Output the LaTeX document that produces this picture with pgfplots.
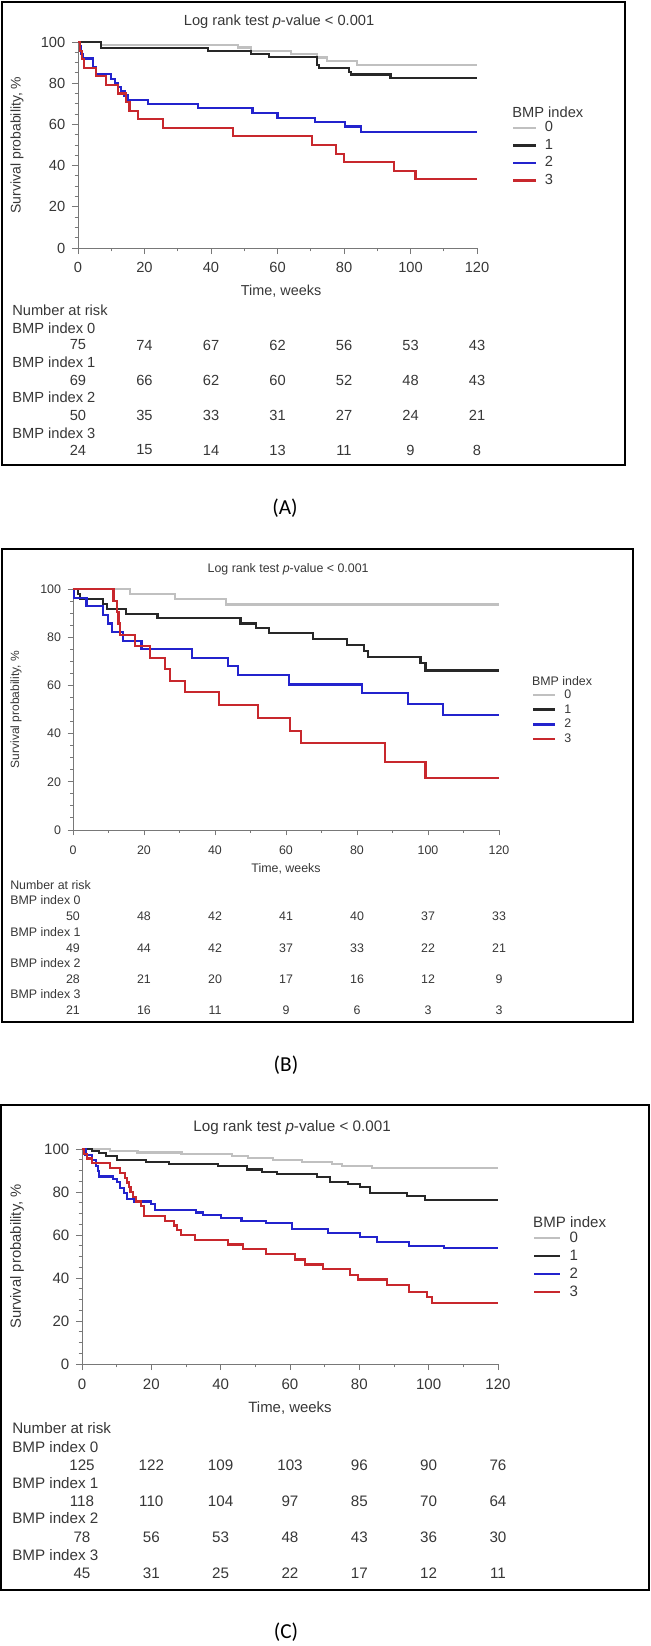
\documentclass[border=0pt]{standalone}
\usepackage{pgfplots}
\pgfplotsset{compat=1.18}
\usepackage{fontspec}
\setmainfont{Liberation Sans}
\newfontfamily\capfont{Carlito}

\definecolor{txt}{RGB}{55,55,55}
\definecolor{axgray}{RGB}{120,120,120}
\definecolor{km0}{RGB}{192,192,192}
\definecolor{km1}{RGB}{40,40,40}
\definecolor{km2}{RGB}{35,35,205}
\definecolor{km3}{RGB}{200,40,45}

\pgfplotsset{
  km/.style={
    scale only axis, xmin=0, xmax=120, ymin=0, ymax=100,
    axis lines=left, axis line style={-, axgray, line width=0.7pt},
    xtick={0,20,...,120}, ytick={0,20,...,100},
    minor x tick num=1, minor y tick num=3,
    tick align=outside, tick style={axgray, line width=0.7pt},
    major tick length=4.5pt, minor tick length=2.5pt,
    tick label style={text=txt},
    /pgf/number format/assume math mode=true,
    clip=false,
    legend cell align=left,
    legend image code/.code={\draw[#1, line width=2pt] plot coordinates {(0pt,0pt) (\pgfkeysvalueof{/pgfplots/kmleglen},0pt)};},
  },
  /pgfplots/kmleglen/.initial=17pt,
  k0/.style={const plot, km0, line width=1.6pt},
  k1/.style={const plot, km1, line width=1.6pt},
  k2/.style={const plot, km2, line width=1.6pt},
  k3/.style={const plot, km3, line width=1.6pt},
}

% Kaplan-Meier estimates, panel A
\pgfplotstableread{
t s
0 100
7 98.7
48 97.3
52 95.5
64 94.0
72 92.5
75 90.8
84 89.0
120 89.0
}\dataAzero
\pgfplotstableread{
t s
0 100
7 97.1
39 95.6
52 94.1
57.5 92.6
72 89.0
72.5 87.3
81.5 85.6
82 84.2
94 82.6
120 82.6
}\dataAone
\pgfplotstableread{
t s
0 100
0.5 98
1 94
1.5 92
4.5 88
5.5 84.5
10 82
11 80
12 78
13 76
14 74
15 72
21 69.7
36 67.8
52.5 65.4
60 63.3
71.3 61.1
80.3 59
85 56.5
120 56.5
}\dataAtwo
\pgfplotstableread{
t s
0 100
0.5 95.8
1.2 91.7
1.8 87.5
5.5 83.3
8.5 79.2
12 75
14.5 70.8
15.5 66.7
18 62.5
25.5 58.3
46.5 54.2
70.5 50
77.5 45.8
80 41.7
95 37.5
101.5 33.3
120 33.3
}\dataAthree

% panel B
\pgfplotstableread{
t s
0 100
16 97.9
28.7 95.8
43 93.6
120 93.6
}\dataBzero
\pgfplotstableread{
t s
0 100
1.5 98
2 95.9
8.5 93.9
9.5 91.8
15 89.8
23.8 87.8
47.2 85.7
51.5 83.7
55.3 81.6
67.7 79.4
77.1 76.9
82 74.3
83.2 71.9
97.9 69.2
99.3 66.2
120 66.2
}\dataBone
\pgfplotstableread{
t s
0 100
0.3 96.4
3.8 92.9
8.5 89.3
9.9 85.7
10.9 82.1
14.2 78.6
19.3 75
33.4 71.4
43.7 67.9
46.4 64.3
60.8 60.4
81.5 56.7
94.3 52.3
104.3 47.7
120 47.7
}\dataBtwo
\pgfplotstableread{
t s
0 100
11.4 95.2
12.3 90.5
12.8 85.7
13.2 81
17.5 76.2
21.7 71.4
25.9 66.7
27.3 61.9
31.5 57.1
41.1 51.9
52 46.6
61.1 41.2
64.2 36
87.9 28.4
99.3 21.5
120 21.5
}\dataBthree

% panel C
\pgfplotstableread{
t s
0 100
8 99.2
16 98.4
28.7 97.6
43.2 96.8
47.9 95.8
55 94.9
63.4 93.8
72 93.0
74.9 92.1
83.6 91.0
120 91.0
}\dataCzero
\pgfplotstableread{
t s
0 100
3 99.2
5 98.3
7 96.6
10 95
18.4 94.1
25 93
39.3 92.1
47.5 90.5
51.8 89.5
56.2 88.2
67.7 87.1
71.5 84.8
76.8 83.7
80.2 82.5
83.1 79.4
93.7 78.1
98.9 76.3
120 76.3
}\dataCone
\pgfplotstableread{
t s
0 100
1 97.4
3 94.9
4 92.3
4.5 89.7
5 87.2
9 85.9
10 84.6
11 82
12 79.5
13 76.9
15 75.6
20 74.4
21 71.8
33 70.5
35 69.2
40 68
46 66.7
53 65.4
60.5 62.6
71 61.1
80.2 59
85 56.8
94.4 54.9
104.4 53.8
120 53.8
}\dataCtwo
\pgfplotstableread{
t s
0 100
0.5 97.8
1.5 95.6
3 93.3
8 91.1
11 88.9
12.5 86.7
13 84.4
13.5 82.2
14 80
14.8 77.8
15.5 75.6
17 73.3
18 68.9
24 66.7
26.5 64.4
27.5 62.2
28.5 60
32.5 57.8
42 55.6
46.5 53.3
53 51.1
61.4 48.6
64.3 46.3
69.6 44.3
77.3 41.6
79.7 39.3
88.1 36.7
94.4 33.6
99.4 31.3
101 28.5
120 28.5
}\dataCthree

\begin{document}
\begin{tikzpicture}
\useasboundingbox (0,0) rectangle (650*0.75pt,-1646*0.75pt);

% ---------------- Panel A ----------------
\begin{axis}[km, at={(78*0.75pt,-248*0.75pt)}, anchor=south west,
  width=399*0.75pt, height=206*0.75pt,
  tick label style={font=\fontsize{11}{13}\selectfont},
  xticklabel style={yshift=-3pt}, yticklabel style={xshift=-1.5pt},
  kmleglen=17pt,
  legend style={draw=none, fill=none, at={(axis description cs:1.088,0.625)}, anchor=north west,
    inner sep=0pt, outer sep=0pt, row sep=0pt, column sep=5.5pt,
    nodes={inner sep=0pt, text height=9.5pt, text depth=3.6pt, text=txt},
    font=\fontsize{11}{13}\selectfont}]
\addplot[k0] table[x=t,y=s]{\dataAzero}; \addlegendentry{0}
\addplot[k1] table[x=t,y=s]{\dataAone}; \addlegendentry{1}
\addplot[k2] table[x=t,y=s]{\dataAtwo}; \addlegendentry{2}
\addplot[k3] table[x=t,y=s]{\dataAthree}; \addlegendentry{3}
\node[font=\fontsize{11}{13}\selectfont, text=txt] at (axis description cs:0.504,1.097) {Log rank test \textit{p}-value < 0.001};
\node[anchor=west, inner sep=0pt, font=\fontsize{11}{13}\selectfont, text=txt] at (axis description cs:1.088,0.660) {BMP index};
\node[font=\fontsize{10.8}{13}\selectfont, text=txt] at (axis description cs:0.509,-0.209) {Time, weeks};
\node[rotate=90, font=\fontsize{10.5}{13}\selectfont, text=txt] at (axis description cs:-0.153,0.5) {Survival probability, \%};
\end{axis}

% ---------------- Panel B ----------------
\begin{axis}[km, at={(73*0.75pt,-830*0.75pt)}, anchor=south west,
  width=426*0.75pt, height=241*0.75pt,
  tick label style={font=\fontsize{9.3}{11}\selectfont},
  xticklabel style={yshift=-4pt}, yticklabel style={xshift=-1.5pt},
  major tick length=4pt, minor tick length=2.2pt,
  kmleglen=16.5pt,
  legend style={draw=none, fill=none, at={(axis description cs:1.077,0.590)}, anchor=north west,
    inner sep=0pt, outer sep=0pt, row sep=0pt, column sep=6pt,
    nodes={inner sep=0pt, text height=8pt, text depth=3pt, text=txt},
    font=\fontsize{9.3}{11}\selectfont}]
\addplot[k0] table[x=t,y=s]{\dataBzero}; \addlegendentry{0}
\addplot[k1] table[x=t,y=s]{\dataBone}; \addlegendentry{1}
\addplot[k2] table[x=t,y=s]{\dataBtwo}; \addlegendentry{2}
\addplot[k3] table[x=t,y=s]{\dataBthree}; \addlegendentry{3}
\node[font=\fontsize{9.3}{11}\selectfont, text=txt] at (axis description cs:0.505,1.083) {Log rank test \textit{p}-value < 0.001};
\node[anchor=west, inner sep=0pt, font=\fontsize{9.3}{11}\selectfont, text=txt] at (axis description cs:1.077,0.618) {BMP index};
\node[font=\fontsize{9.3}{11}\selectfont, text=txt] at (axis description cs:0.5,-0.162) {Time, weeks};
\node[rotate=90, font=\fontsize{9}{11}\selectfont, text=txt] at (axis description cs:-0.134,0.5) {Survival probability, \%};
\end{axis}

% ---------------- Panel C ----------------
\begin{axis}[km, at={(82*0.75pt,-1364*0.75pt)}, anchor=south west,
  width=416*0.75pt, height=215*0.75pt,
  tick label style={font=\fontsize{11.3}{13}\selectfont},
  xticklabel style={yshift=-3pt}, yticklabel style={xshift=-1.5pt},
  kmleglen=19pt,
  legend style={draw=none, fill=none, at={(axis description cs:1.084,0.628)}, anchor=north west,
    inner sep=0pt, outer sep=0pt, row sep=0pt, column sep=6.5pt,
    nodes={inner sep=0pt, text height=9.8pt, text depth=3.7pt, text=txt},
    font=\fontsize{11.3}{13}\selectfont}]
\addplot[k0] table[x=t,y=s]{\dataCzero}; \addlegendentry{0}
\addplot[k1] table[x=t,y=s]{\dataCone}; \addlegendentry{1}
\addplot[k2] table[x=t,y=s]{\dataCtwo}; \addlegendentry{2}
\addplot[k3] table[x=t,y=s]{\dataCthree}; \addlegendentry{3}
\node[font=\fontsize{11.4}{13}\selectfont, text=txt] at (axis description cs:0.505,1.102) {Log rank test \textit{p}-value < 0.001};
\node[anchor=west, inner sep=0pt, font=\fontsize{11.3}{13}\selectfont, text=txt] at (axis description cs:1.084,0.660) {BMP index};
\node[font=\fontsize{11.2}{13}\selectfont, text=txt] at (axis description cs:0.5,-0.205) {Time, weeks};
\node[rotate=90, font=\fontsize{11.1}{13}\selectfont, text=txt] at (axis description cs:-0.156,0.5) {Survival probability, \%};
\end{axis}

\begin{scope}[x=0.75pt, y=-0.75pt]
% frames
\draw[line width=1.1pt] (2,2) rectangle (625,465);
\draw[line width=1.1pt] (2,549) rectangle (633,1022);
\draw[line width=1.1pt] (1,1105) rectangle (649,1590);

% number at risk, panel A
\begin{scope}[every node/.style={font=\fontsize{11}{13}\selectfont, text=txt, inner sep=0pt}]
\node[anchor=west] at (12,310) {Number at risk};
\node[anchor=west] at (12,328) {BMP index 0};
\node[anchor=west] at (12,362) {BMP index 1};
\node[anchor=west] at (12,397) {BMP index 2};
\node[anchor=west] at (12,433) {BMP index 3};
\foreach \v [count=\i from 0] in {75,74,67,62,56,53,43} \node at (78+\i*66.5,345) {\v};
\foreach \v [count=\i from 0] in {69,66,62,60,52,48,43} \node at (78+\i*66.5,380) {\v};
\foreach \v [count=\i from 0] in {50,35,33,31,27,24,21} \node at (78+\i*66.5,415) {\v};
\foreach \v [count=\i from 0] in {24,15,14,13,11,9,8} \node at (78+\i*66.5,450) {\v};
\end{scope}

% number at risk, panel B
\begin{scope}[every node/.style={font=\fontsize{9.3}{11}\selectfont, text=txt, inner sep=0pt}]
\node[anchor=west] at (10,885) {Number at risk};
\node[anchor=west] at (10,900) {BMP index 0};
\node[anchor=west] at (10,932) {BMP index 1};
\node[anchor=west] at (10,963) {BMP index 2};
\node[anchor=west] at (10,994) {BMP index 3};
\foreach \v [count=\i from 0] in {50,48,42,41,40,37,33} \node at (73+\i*71,916) {\v};
\foreach \v [count=\i from 0] in {49,44,42,37,33,22,21} \node at (73+\i*71,948) {\v};
\foreach \v [count=\i from 0] in {28,21,20,17,16,12,9} \node at (73+\i*71,979) {\v};
\foreach \v [count=\i from 0] in {21,16,11,9,6,3,3} \node at (73+\i*71,1010) {\v};
\end{scope}

% number at risk, panel C
\begin{scope}[every node/.style={font=\fontsize{11.4}{13}\selectfont, text=txt, inner sep=0pt}]
\node[anchor=west] at (12,1428) {Number at risk};
\node[anchor=west] at (12,1447) {BMP index 0};
\node[anchor=west] at (12,1483) {BMP index 1};
\node[anchor=west] at (12,1518) {BMP index 2};
\node[anchor=west] at (12,1555) {BMP index 3};
\foreach \v [count=\i from 0] in {125,122,109,103,96,90,76} \node at (82+\i*69.33,1465) {\v};
\foreach \v [count=\i from 0] in {118,110,104,97,85,70,64} \node at (82+\i*69.33,1501) {\v};
\foreach \v [count=\i from 0] in {78,56,53,48,43,36,30} \node at (82+\i*69.33,1537) {\v};
\foreach \v [count=\i from 0] in {45,31,25,22,17,12,11} \node at (82+\i*69.33,1573) {\v};
\end{scope}

% panel captions
\node[font=\capfont\fontsize{16}{19}\selectfont] at (285,508) {(A)};
\node[font=\capfont\fontsize{16}{19}\selectfont] at (286,1065) {(B)};
\node[font=\capfont\fontsize{16}{19}\selectfont] at (286,1632) {(C)};
\end{scope}
\end{tikzpicture}
\end{document}
